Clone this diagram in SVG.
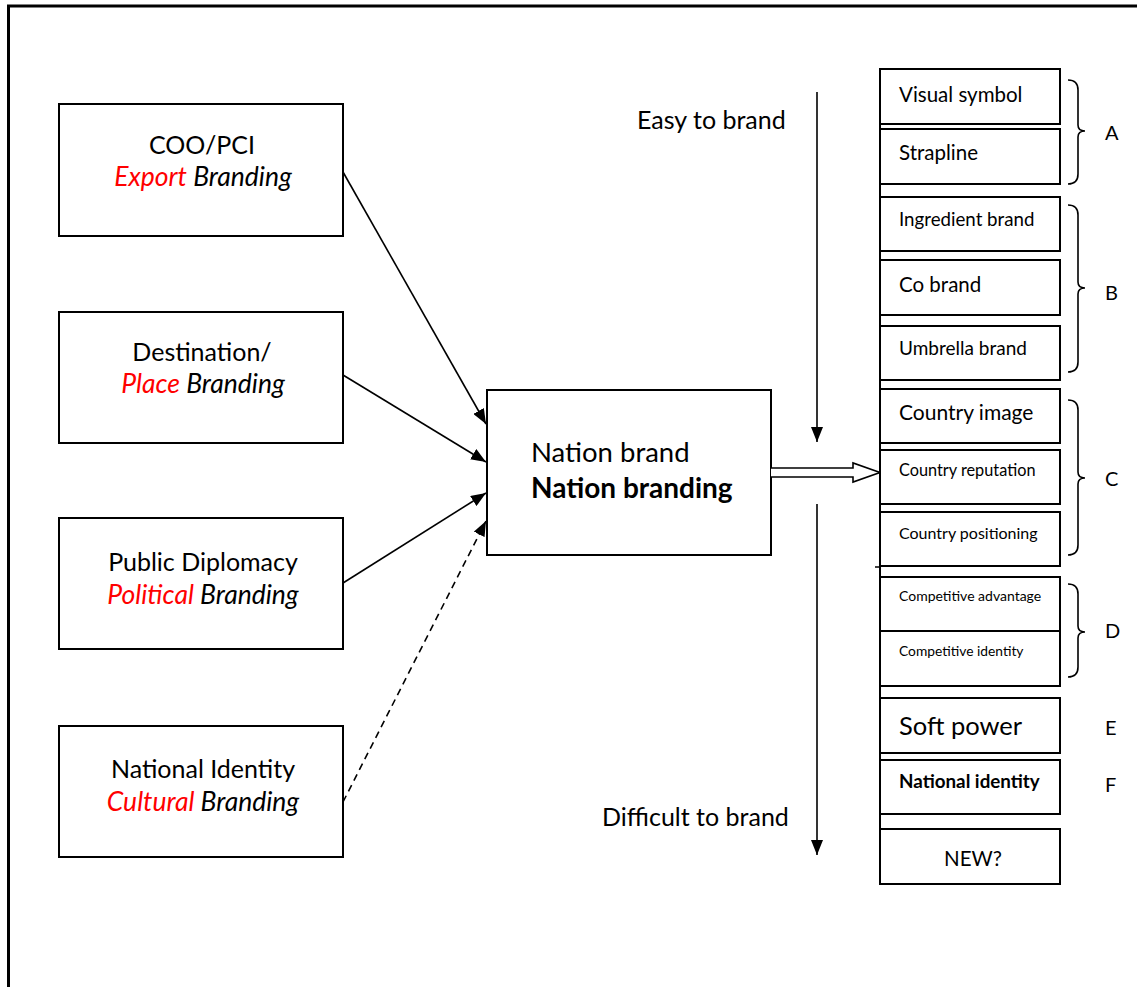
<svg xmlns="http://www.w3.org/2000/svg" width="1137" height="987" viewBox="0 0 1137 987">
<defs>
<marker id="ah" markerUnits="userSpaceOnUse" markerWidth="16" markerHeight="12" refX="15" refY="6" orient="auto">
<path d="M0,0 L15,6 L0,12 Z" fill="#000"/>
</marker>
<style>
text{font-family:Lato,"Open Sans","Liberation Sans",sans-serif;fill:#000}
.box{fill:#fff;stroke:#000;stroke-width:2}
.con{fill:none;stroke:#000;stroke-width:1.6}
.red{fill:#ff0000}
.lbl{font-size:25px}
.it{font-style:italic;font-size:26.5px}
.rb{font-size:20.5px}
.brace{fill:none;stroke:#000;stroke-width:1.6}
.letter{font-size:20px}
</style>
</defs>
<rect width="1137" height="987" fill="#fff"/>
<rect x="8.5" y="6" width="1200" height="1100" fill="none" stroke="#000" stroke-width="3"/>

<g id="coo">
<rect class="box" x="59" y="104" width="284" height="132"/>
<text class="lbl" x="202" y="154" text-anchor="middle">COO/PCI</text>
<text class="it" x="203" y="186" text-anchor="middle"><tspan class="red">Export</tspan> Branding</text>
</g>
<g id="destination">
<rect class="box" x="59" y="312" width="284" height="131"/>
<text class="lbl" x="202" y="361" text-anchor="middle">Destination/</text>
<text class="it" x="203" y="393" text-anchor="middle"><tspan class="red">Place</tspan> Branding</text>
</g>
<g id="diplomacy">
<rect class="box" x="59" y="518" width="284" height="131"/>
<text class="lbl" x="203" y="571" text-anchor="middle">Public Diplomacy</text>
<text class="it" x="203" y="604" text-anchor="middle"><tspan class="red">Political</tspan> Branding</text>
</g>
<g id="identity">
<rect class="box" x="59" y="726" width="284" height="131"/>
<text class="lbl" x="203" y="778" text-anchor="middle">National Identity</text>
<text class="it" x="203" y="811" text-anchor="middle"><tspan class="red">Cultural</tspan> Branding</text>
</g>
<g id="nation">
<rect class="box" x="487" y="390" width="284" height="165"/>
<text x="531" y="462" font-size="27.5">Nation brand</text>
<text x="531" y="498" font-size="28" font-weight="bold">Nation branding</text>
</g>

<g id="connectors">
<line class="con" x1="343" y1="172" x2="486" y2="424" marker-end="url(#ah)"/>
<line class="con" x1="343" y1="375" x2="486" y2="462" marker-end="url(#ah)"/>
<line class="con" x1="343" y1="583" x2="486" y2="493" marker-end="url(#ah)"/>
<line class="con" x1="343" y1="802" x2="486" y2="521" stroke-dasharray="7,5" marker-end="url(#ah)"/>
<line class="con" x1="817" y1="92" x2="817" y2="442" marker-end="url(#ah)"/>
<line class="con" x1="817" y1="504" x2="817" y2="855" marker-end="url(#ah)"/>
<path d="M771,468 L853,468 L853,463 L880,472.5 L853,482 L853,477 L771,477" fill="#fff" stroke="#000" stroke-width="1.6"/>
</g>

<text class="lbl" x="637" y="129" font-size="25.5">Easy to brand</text>
<text class="lbl" x="602" y="826" font-size="25.5">Difficult to brand</text>

<line x1="880" y1="69" x2="880" y2="884" stroke="#000" stroke-width="2"/>
<line x1="875" y1="567" x2="880" y2="567" stroke="#000" stroke-width="1.5"/>

<g id="visual"><rect class="box" x="880" y="69" width="180" height="55"/><text class="rb" x="899" y="102">Visual symbol</text></g>
<g id="strapline"><rect class="box" x="880" y="129" width="180" height="55"/><text class="rb" x="899" y="160">Strapline</text></g>
<g id="ingredient"><rect class="box" x="880" y="197" width="180" height="54"/><text x="899" y="226" font-size="18.7">Ingredient brand</text></g>
<g id="cobrand"><rect class="box" x="880" y="260" width="180" height="55"/><text class="rb" x="899" y="292">Co brand</text></g>
<g id="umbrella"><rect class="box" x="880" y="326" width="180" height="54"/><text x="899" y="355" font-size="19">Umbrella brand</text></g>
<g id="image"><rect class="box" x="880" y="389" width="180" height="54"/><text x="899" y="420" font-size="21">Country image</text></g>
<g id="reputation"><rect class="box" x="880" y="450" width="180" height="54"/><text x="899" y="476" font-size="16.3">Country reputation</text></g>
<g id="positioning"><rect class="box" x="880" y="512" width="180" height="54"/><text x="899" y="539" font-size="16">Country positioning</text></g>
<g id="advantage"><rect class="box" x="880" y="577" width="180" height="54"/><text x="899" y="601" font-size="14">Competitive advantage</text></g>
<g id="compidentity"><rect class="box" x="880" y="631" width="180" height="55"/><text x="899" y="656" font-size="13.8">Competitive identity</text></g>
<g id="softpower"><rect class="box" x="880" y="698" width="180" height="55"/><text x="899" y="735" font-size="25.5">Soft power</text></g>
<g id="natidentity"><rect class="box" x="880" y="760" width="180" height="54"/><text x="899" y="788" font-size="18.8" font-weight="bold">National identity</text></g>
<g id="new"><rect class="box" x="880" y="829" width="180" height="55"/><text x="973" y="866" font-size="20.5" text-anchor="middle">NEW?</text></g>

<g id="braces">
<path class="brace" d="M1068,80 Q1078,80 1078,90 L1078,125 Q1078,131 1085,131 Q1078,131 1078,137 L1078,174 Q1078,184 1068,184"/>
<path class="brace" d="M1068,205 Q1078,205 1078,215 L1078,282 Q1078,288 1085,288 Q1078,288 1078,294 L1078,362 Q1078,372 1068,372"/>
<path class="brace" d="M1068,400 Q1078,400 1078,410 L1078,472 Q1078,478 1085,478 Q1078,478 1078,484 L1078,545 Q1078,555 1068,555"/>
<path class="brace" d="M1068,584 Q1078,584 1078,594 L1078,626 Q1078,632 1085,632 Q1078,632 1078,638 L1078,667 Q1078,677 1068,677"/>
</g>
<text class="letter" x="1105" y="140">A</text>
<text class="letter" x="1105" y="300">B</text>
<text class="letter" x="1105" y="486">C</text>
<text class="letter" x="1105" y="638">D</text>
<text class="letter" x="1105" y="735">E</text>
<text class="letter" x="1105" y="792">F</text>
</svg>
